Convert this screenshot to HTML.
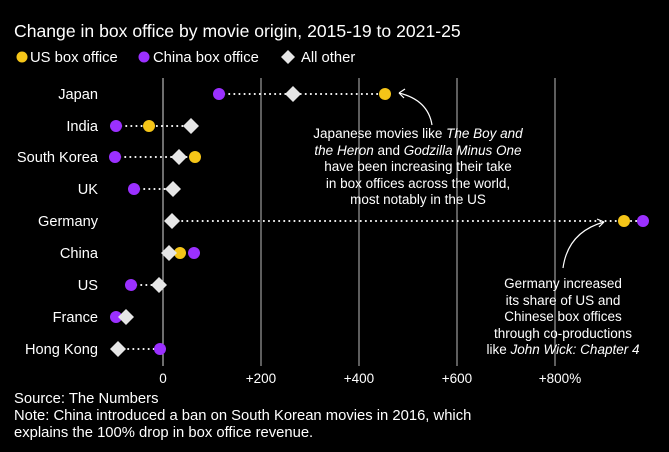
<!DOCTYPE html>
<html><head><meta charset="utf-8"><style>
body{margin:0;background:#000;}
svg{display:block;font-family:"Liberation Sans",sans-serif;}
</style></head><body>
<svg width="669" height="452" viewBox="0 0 669 452">
<rect width="669" height="452" fill="#000"/>
<text x="14" y="37" fill="#fff" font-size="17.6">Change in box office by movie origin, 2015-19 to 2021-25</text>
<g font-size="14.8" fill="#fff">
<circle cx="22" cy="57" r="5.5" fill="#f5c518"/><text x="30" y="62">US box office</text>
<circle cx="144" cy="57" r="5.5" fill="#9b30ff"/><text x="153" y="62">China box office</text>
<path d="M288 50 L295 57 L288 64 L281 57Z" fill="#e6e6e6"/><text x="301" y="62">All other</text>
</g>
<g stroke="#bbb" stroke-width="1">
<line x1="163" y1="78" x2="163" y2="366" stroke="#ddd"/>
<line x1="261" y1="78" x2="261" y2="366"/>
<line x1="359" y1="78" x2="359" y2="366"/>
<line x1="457" y1="78" x2="457" y2="366"/>
<line x1="555" y1="78" x2="555" y2="366"/>
</g>
<g font-size="13.5" fill="#fff" text-anchor="middle">
<text x="163" y="383">0</text><text x="261" y="383">+200</text><text x="359" y="383">+400</text><text x="457" y="383">+600</text><text x="560" y="383">+800%</text>
</g>
<g font-size="14.6" fill="#fff" text-anchor="end">
<text x="98" y="99">Japan</text><text x="98" y="131">India</text><text x="98" y="162">South Korea</text><text x="98" y="194">UK</text><text x="98" y="226">Germany</text><text x="98" y="258">China</text><text x="98" y="290">US</text><text x="98" y="322">France</text><text x="98" y="354">Hong Kong</text>
</g>
<g stroke="#fff" stroke-width="2" stroke-dasharray="0.1 5" stroke-linecap="round">
<line x1="219" y1="94" x2="385" y2="94"/>
<line x1="116" y1="126" x2="191" y2="126"/>
<line x1="115" y1="157" x2="195" y2="157"/>
<line x1="134" y1="189" x2="173" y2="189"/>
<line x1="172" y1="221" x2="643" y2="221"/>
<line x1="131" y1="285" x2="159" y2="285"/>
<line x1="118" y1="349" x2="160" y2="349"/>
</g>
<defs>
<path id="d" d="M0 -8 L8 0 L0 8 L-8 0Z" fill="#e6e6e6"/>
</defs>
<g>
<circle cx="219" cy="94" r="6" fill="#9b30ff"/><use href="#d" x="293" y="94"/><circle cx="385" cy="94" r="6" fill="#f5c518"/>
<circle cx="116" cy="126" r="6" fill="#9b30ff"/><circle cx="149" cy="126" r="6" fill="#f5c518"/><use href="#d" x="191" y="126"/>
<circle cx="115" cy="157" r="6" fill="#9b30ff"/><use href="#d" x="179" y="157"/><circle cx="195" cy="157" r="6" fill="#f5c518"/>
<circle cx="134" cy="189" r="6" fill="#9b30ff"/><use href="#d" x="173" y="189"/>
<use href="#d" x="172" y="221"/><circle cx="624" cy="221" r="6" fill="#f5c518"/><circle cx="643" cy="221" r="6" fill="#9b30ff"/>
<circle cx="194" cy="253" r="6" fill="#9b30ff"/><circle cx="180" cy="253" r="6" fill="#f5c518"/><use href="#d" x="169" y="253"/>
<circle cx="131" cy="285" r="6" fill="#9b30ff"/><use href="#d" x="159" y="285"/>
<circle cx="116" cy="317" r="6" fill="#9b30ff"/><use href="#d" x="126" y="317"/>
<use href="#d" x="118" y="349"/><circle cx="160" cy="349" r="6" fill="#9b30ff"/>
</g>
<g fill="none" stroke="#fff" stroke-width="1.2">
<path d="M432 125 Q428 100 399 93"/>
<path d="M399 93 L405 89 M399 93 L404 98"/>
<path d="M563 268 Q568 232 604 222"/>
<path d="M604 222 L597 219 M604 222 L599 227"/>
</g>
<g font-size="13.5" fill="#fff" text-anchor="middle">
<text x="418" y="138">Japanese movies like <tspan font-style="italic">The Boy and</tspan></text>
<text x="418" y="155"><tspan font-style="italic">the Heron</tspan> and <tspan font-style="italic">Godzilla Minus One</tspan></text>
<text x="418" y="171">have been increasing their take</text>
<text x="418" y="188">in box offices across the world,</text>
<text x="418" y="204">most notably in the US</text>
<text x="563" y="288">Germany increased</text>
<text x="563" y="305">its share of US and</text>
<text x="563" y="321">Chinese box offices</text>
<text x="563" y="338">through co-productions</text>
<text x="563" y="354">like <tspan font-style="italic">John Wick: Chapter 4</tspan></text>
</g>
<g font-size="14.8" fill="#fff">
<text x="14" y="403">Source: The Numbers</text>
<text x="14" y="420">Note: China introduced a ban on South Korean movies in 2016, which</text>
<text x="14" y="437">explains the 100% drop in box office revenue.</text>
</g>
</svg>
</body></html>
